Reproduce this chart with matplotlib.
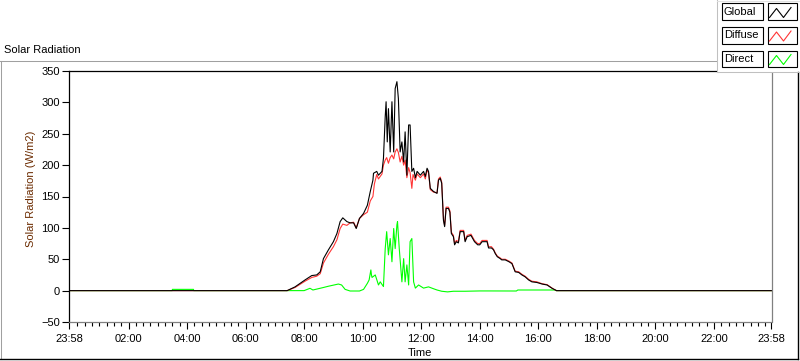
import matplotlib
matplotlib.use("Agg")
import matplotlib.pyplot as plt
from matplotlib.lines import Line2D
from matplotlib.patches import Rectangle

plt.rcParams['font.family'] = ['Liberation Sans', 'DejaVu Sans']
plt.rcParams['font.size'] = 8

# time in hours (23:58 of the previous day = -2 min)
global_t = [-0.033, 7.42, 7.69, 8.03, 8.26, 8.43, 8.55, 8.66, 8.83, 9.00, 9.12, 9.23,
            9.32, 9.46, 9.57, 9.69, 9.78, 9.89, 10.03, 10.16, 10.26, 10.35, 10.37,
            10.48, 10.54, 10.66, 10.71, 10.77, 10.80, 10.84, 10.88, 10.94, 11.00,
            11.06, 11.11, 11.17, 11.22, 11.28, 11.34, 11.40, 11.45, 11.51, 11.57,
            11.62, 11.68, 11.74, 11.80, 11.86, 11.97, 12.08, 12.14, 12.20, 12.25,
            12.31, 12.42, 12.54, 12.59, 12.65, 12.70, 12.76, 12.80, 12.85, 12.93,
            12.98, 13.03, 13.10, 13.14, 13.20, 13.27, 13.33, 13.45, 13.50, 13.57,
            13.70, 13.82, 13.93, 14.00, 14.08, 14.25, 14.30, 14.40, 14.47, 14.53,
            14.60, 14.70, 14.75, 14.87, 15.00, 15.10, 15.21, 15.33, 15.44, 15.55,
            15.67, 15.78, 15.95, 16.13, 16.30, 16.47, 16.58, 16.62, 23.967]
global_v = [0, 0, 6, 17, 24, 25, 30, 51, 65, 78, 91, 110,
            116, 110, 108, 108, 99, 115, 123, 136, 158, 176, 187,
            190, 184, 190, 211, 277, 301, 237, 290, 221, 301,
            221, 322, 333, 306, 221, 237, 205, 253, 184, 264,
            264, 190, 195, 180, 190, 184, 190, 182, 195, 190,
            163, 158, 155, 176, 179, 171, 112, 102, 131, 131,
            125, 91, 86, 73, 78, 76, 94, 94, 78, 86,
            88, 78, 73, 73, 78, 78, 68, 68, 65, 59,
            54, 51, 49, 49, 46, 43, 30, 29, 25, 22,
            17, 14, 13, 10.5, 9, 3.7, 1, 0, 0]

diffuse_t = [-0.033, 7.42, 7.69, 8.03, 8.26, 8.43, 8.55, 8.66, 8.83, 9.00, 9.12, 9.23,
             9.32, 9.46, 9.57, 9.69, 9.78, 9.89, 10.03, 10.16, 10.26, 10.35, 10.40,
             10.48, 10.54, 10.66, 10.71, 10.77, 10.82, 10.88, 10.94, 11.00, 11.06,
             11.11, 11.17, 11.22, 11.28, 11.34, 11.40, 11.45, 11.51, 11.57, 11.62,
             11.68, 11.72, 11.80, 11.86, 11.97, 12.08, 12.14, 12.20, 12.25, 12.31,
             12.42, 12.54, 12.59, 12.65, 12.70, 12.76, 12.80, 12.85, 12.93, 12.98,
             13.03, 13.10, 13.14, 13.20, 13.27, 13.33, 13.45, 13.50, 13.57, 13.70,
             13.82, 13.93, 14.00, 14.08, 14.25, 14.30, 14.40, 14.47, 14.53, 14.60,
             14.70, 14.75, 14.87, 15.00, 15.10, 15.21, 15.33, 15.44, 15.55, 15.67,
             15.78, 15.95, 16.13, 16.30, 16.47, 16.58, 16.62, 23.967]
diffuse_v = [0, 0, 5, 15, 21, 23, 27, 44, 58, 70, 81, 99,
             106, 104, 108, 109, 100, 115, 121, 125, 143, 150, 170,
             185, 178, 186, 200, 208, 212, 203, 212, 216, 210,
             221, 226, 220, 205, 214, 200, 208, 180, 196, 188,
             163, 185, 176, 186, 180, 186, 178, 192, 188, 161,
             157, 156, 178, 181, 173, 114, 104, 133, 133, 127,
             93, 88, 75, 80, 78, 96, 96, 80, 88, 90,
             80, 75, 75, 80, 80, 70, 70, 66, 60, 55,
             52, 50, 50, 47, 44, 31, 30, 26, 23, 18,
             15, 14, 11, 9.5, 4, 1, 0, 0]

direct_t = [-0.033, 3.49, 3.50, 4.22, 4.23, 7.42, 8.00, 8.20, 8.30, 8.66, 8.83, 9.17,
            9.28, 9.40, 9.57, 9.89, 10.03, 10.16, 10.22, 10.28, 10.30, 10.32, 10.43,
            10.54, 10.60, 10.71, 10.77, 10.82, 10.88, 10.94, 11.00, 11.06, 11.11,
            11.17, 11.19, 11.25, 11.34, 11.40, 11.45, 11.51, 11.57, 11.62, 11.68,
            11.74, 11.80, 11.91, 12.08, 12.25, 12.42, 12.54, 12.70, 12.90, 13.10,
            13.50, 14.00, 14.30, 15.25, 15.30, 16.58, 16.62, 23.967]
direct_v = [0, 0, 2, 2, 0, 0, 0, 3.7, 1, 5, 7, 10.5,
            9, 2, -0.6, -0.6, 2, 11.6, 17, 33, 25, 21, 25,
            9, 14, 6.5, 67, 94, 57, 83, 46, 99, 67,
            105, 110, 67, 14, 51, 14, 41, 9, 78, 83,
            14, 4, 9, 4, 6, 3, 1, -1, -2, -1,
            -1, -0.5, -0.5, -0.6, 1, 1, 0, 0]

series_names = ["Global", "Diffuse", "Direct"]
series_colors = ["#000000", "#ff3535", "#00ff00"]

x_ticks = [-0.033, 2, 4, 6, 8, 10, 12, 14, 16, 18, 20, 22, 23.967]
x_labels = ["23:58", "02:00", "04:00", "06:00", "08:00", "10:00", "12:00",
            "14:00", "16:00", "18:00", "20:00", "22:00", "23:58"]
y_ticks = [-50, 0, 50, 100, 150, 200, 250, 300, 350]

W, H = 800, 361


def fx(x):
    return x / W


def fy(y):
    return 1 - y / H


fig = plt.figure(figsize=(8, 3.61), dpi=100)
ax = fig.add_axes([fx(69), 39 / H, 702.5 / W, 251 / H])

ax.plot(direct_t, direct_v, color=series_colors[2], lw=0.8)
ax.plot(diffuse_t, diffuse_v, color=series_colors[1], lw=0.8)
ax.plot(global_t, global_v, color=series_colors[0], lw=0.8)

ax.set_xlim(-0.033, 23.967)
ax.set_ylim(-50, 350)
ax.set_xticks(x_ticks)
ax.set_xticklabels(x_labels)
ax.set_xticks([m / 4 for m in range(1, 96)], minor=True)
ax.set_yticks(y_ticks)
ax.tick_params(axis='x', which='major', direction='out', length=5, width=0.8, pad=4)
ax.tick_params(axis='x', which='minor', direction='out', length=3, width=0.8)
ax.tick_params(axis='y', direction='out', length=5, width=0.8, pad=1.5)

for side in ['left', 'top']:
    ax.spines[side].set_color('black')
    ax.spines[side].set_linewidth(0.9)
for side in ['right', 'bottom']:
    ax.spines[side].set_color('#808080')
    ax.spines[side].set_linewidth(0.9)

fig.text(fx(4), fy(50), "Solar Radiation", va='center', ha='left')
fig.text(fx(420), fy(352.5), "Time", va='center', ha='center')
fig.text(fx(31), fy(189), "Solar Radiation (W/m2)", rotation=90,
         va='center', ha='center', color='#6b2b00')

# panel frame
fig.add_artist(Line2D([fx(0), fx(717)], [fy(61), fy(61)], color='#a0a0a0', lw=0.75))
fig.add_artist(Line2D([fx(0.5), fx(0.5)], [fy(61), fy(359)], color='#a0a0a0', lw=0.75))
fig.add_artist(Line2D([fx(0), fx(798)], [fy(359), fy(359)], color='black', lw=1))
fig.add_artist(Line2D([fx(797.5), fx(797.5)], [fy(72), fy(359)], color='black', lw=1))

# legend panel
fig.add_artist(Rectangle((fx(717), fy(72)), 83 / W, 72 / H, facecolor='white',
                         edgecolor='none', zorder=1))
fig.add_artist(Line2D([fx(717), fx(717)], [fy(0), fy(72)], color='#c0c0c0', lw=0.75))
fig.add_artist(Line2D([fx(717), fx(800)], [fy(72), fy(72)], color='#c0c0c0', lw=0.75))
fig.add_artist(Line2D([fx(717), fx(800)], [fy(0.5), fy(0.5)], color='#e0e0e0', lw=0.75))

for i, (name, col) in enumerate(zip(series_names, series_colors)):
    top = 3.5 + i * 23.5
    fig.add_artist(Rectangle((fx(721.5), fy(top + 16.5)), 41.5 / W, 16.5 / H,
                             facecolor='white', edgecolor='black', lw=0.8, zorder=2))
    fig.add_artist(Rectangle((fx(767.5), fy(top + 16.5)), 29 / W, 16.5 / H,
                             facecolor='white', edgecolor='black', lw=0.8, zorder=2))
    fig.text(fx(724), fy(top + 8.5), name, va='center', ha='left', zorder=3)
    zx = [769.5, 776.5, 783.5, 791]
    zy = [top + 14, top + 5, top + 14, top + 4]
    fig.add_artist(Line2D([fx(v) for v in zx], [fy(v) for v in zy], color=col,
                          lw=0.8, zorder=3))

fig.savefig("out.png", dpi=100)
